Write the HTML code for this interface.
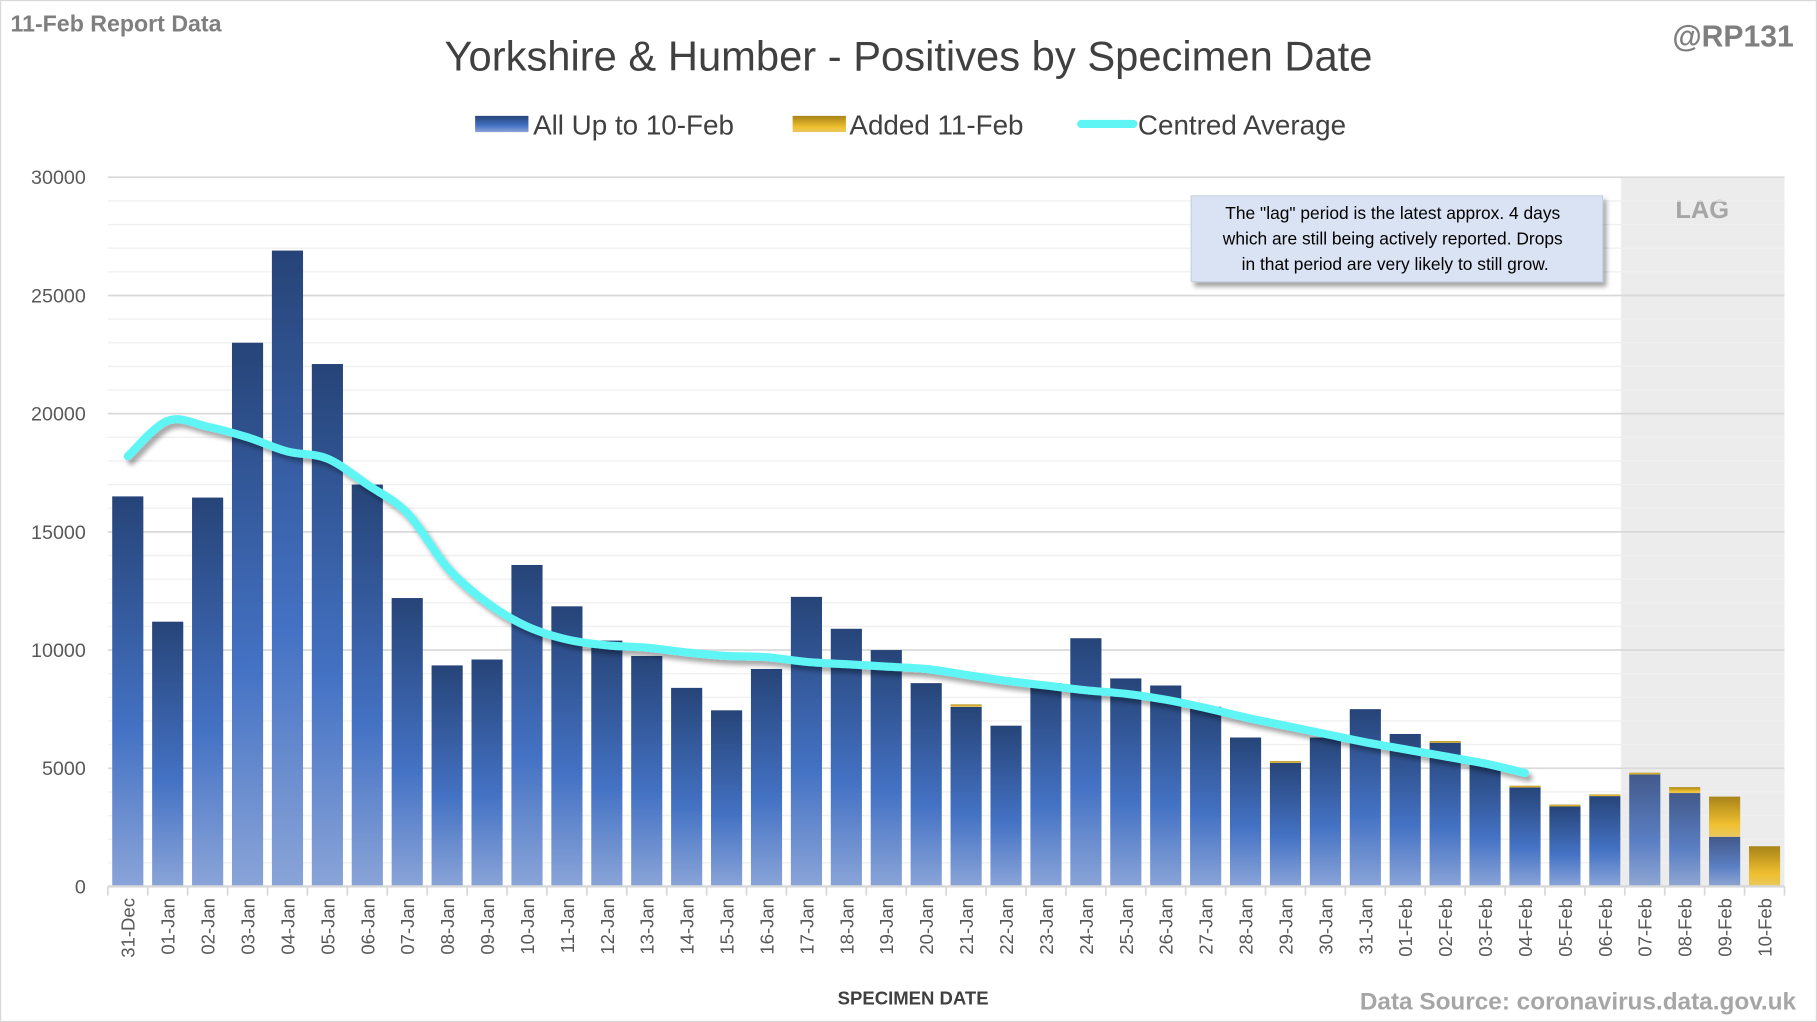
<!DOCTYPE html>
<html><head><meta charset="utf-8"><style>
html,body{margin:0;padding:0;background:#fff;}
svg{display:block;font-family:"Liberation Sans",sans-serif;}
</style></head><body>
<svg id="chart" width="1817" height="1022" viewBox="0 0 1568 882" xmlns="http://www.w3.org/2000/svg">
<defs>
<linearGradient id="gBlue" x1="0" y1="0" x2="0" y2="1">
<stop offset="0" stop-color="#264478"/><stop offset="0.6" stop-color="#4472C4"/><stop offset="1" stop-color="#8aa4d8"/>
</linearGradient>
<linearGradient id="gBlueLag" x1="0" y1="0" x2="0" y2="1">
<stop offset="0" stop-color="#42598a"/><stop offset="0.6" stop-color="#5b7fc4"/><stop offset="1" stop-color="#8fa6d2"/>
</linearGradient>
<linearGradient id="gGold" x1="0" y1="0" x2="0" y2="1">
<stop offset="0" stop-color="#a88418"/><stop offset="0.7" stop-color="#f0c030"/><stop offset="1" stop-color="#e8c860"/>
</linearGradient>
<filter id="sh" x="-5%" y="-5%" width="110%" height="120%"><feDropShadow dx="3" dy="4" stdDeviation="2" flood-color="#000" flood-opacity="0.35"/></filter>
</defs>
<rect x="0" y="0" width="1568" height="882" fill="#fff" stroke="#d9d9d9" stroke-width="2"/>
<text x="9" y="27" font-size="20" font-weight="bold" fill="#7f7f7f">11-Feb Report Data</text>
<text x="1548" y="40" font-size="26" font-weight="bold" fill="#7f7f7f" text-anchor="end">@RP131</text>
<text x="784" y="61" font-size="36" fill="#404040" text-anchor="middle">Yorkshire &amp; Humber - Positives by Specimen Date</text>
<g>
<rect x="410" y="100" width="46" height="14" fill="url(#gBlue)"/>
<text x="460" y="116" font-size="24" fill="#404040">All Up to 10-Feb</text>
<rect x="684" y="100" width="46" height="14" fill="url(#gGold)"/>
<text x="733" y="116" font-size="24" fill="#404040">Added 11-Feb</text>
<line x1="933" y1="107" x2="978" y2="107" stroke="#5ff5f5" stroke-width="7" stroke-linecap="round"/>
<text x="982" y="116" font-size="24" fill="#404040">Centred Average</text>
</g>
<rect x="1399" y="153" width="141" height="612" fill="#ececec"/>
<text x="1469" y="188" font-size="22" font-weight="bold" fill="#a6a6a6" text-anchor="middle">LAG</text>
<g id="grid"></g>
<g id="bars"></g>
<path id="avg" fill="none" stroke="#5ff5f5" stroke-width="7" stroke-linecap="round" stroke-linejoin="round" filter="url(#sh)"/>
<g id="axis"></g>
<g filter="url(#sh)">
<rect x="1028" y="169" width="355" height="74" fill="#dae3f3" stroke="#c8d2e2"/>
</g>
<text font-size="15" fill="#000" text-anchor="middle">
<tspan x="1204" y="189">The "lag" period is the latest approx. 4 days</tspan>
<tspan x="1204" y="211">which are still being actively reported.  Drops</tspan>
<tspan x="1204" y="233">in that period are very likely to still grow.</tspan>
</text>
<text x="788" y="867" font-size="16" font-weight="bold" fill="#404040" text-anchor="middle">SPECIMEN DATE</text>
<text x="1550" y="871" font-size="21" font-weight="bold" fill="#a6a6a6" text-anchor="end">Data Source: coronavirus.data.gov.uk</text>
</svg>
<script>
const categories = ["31-Dec","01-Jan","02-Jan","03-Jan","04-Jan","05-Jan","06-Jan","07-Jan","08-Jan","09-Jan","10-Jan","11-Jan","12-Jan","13-Jan","14-Jan","15-Jan","16-Jan","17-Jan","18-Jan","19-Jan","20-Jan","21-Jan","22-Jan","23-Jan","24-Jan","25-Jan","26-Jan","27-Jan","28-Jan","29-Jan","30-Jan","31-Jan","01-Feb","02-Feb","03-Feb","04-Feb","05-Feb","06-Feb","07-Feb","08-Feb","09-Feb","10-Feb"];
const upTo10Feb = [16500,11200,16450,23000,26900,22100,17000,12200,9350,9600,13600,11850,10400,9750,8400,7450,9200,12250,10900,10000,8600,7600,6800,8600,10500,8800,8500,7600,6300,5250,6300,7500,6450,6100,5200,4200,3400,3850,4780,3950,2100,0];
const added11Feb = [0,0,0,0,0,0,0,0,0,0,0,0,0,0,0,0,0,0,0,0,0,100,0,0,0,0,0,0,0,50,0,0,0,50,0,60,60,40,30,250,1700,1700];
const centredAvg = [18200,19700,19450,19000,18400,18100,17000,15800,13500,12000,11000,10450,10200,10100,9900,9750,9700,9500,9400,9300,9200,8950,8700,8500,8300,8150,7900,7550,7150,6800,6450,6100,5800,5500,5200,4800];
const yTicks = [0,5000,10000,15000,20000,25000,30000];
const NS="http://www.w3.org/2000/svg";
const X0=93,X1=1540,Y0=765,Y1=153,YMAX=30000;
const cw=(X1-X0)/categories.length;
const xC=i=>X0+cw*(i+0.5);
const yS=v=>Y0-(v/YMAX)*(Y0-Y1);
function mk(tag,attrs,parent){const e=document.createElementNS(NS,tag);for(const k in attrs)e.setAttribute(k,attrs[k]);parent.appendChild(e);return e;}
const grid=document.getElementById('grid'),bars=document.getElementById('bars'),axis=document.getElementById('axis');
for(let v=1000;v<=YMAX;v+=1000){
  const major=v%5000===0;
  const l=mk('line',{x1:X0,x2:X1,y1:yS(v),y2:yS(v),stroke:major?'#d9d9d9':'#f0f0f0','stroke-width':major?1.5:1.2},grid);
  
  
}
yTicks.forEach(v=>{
  const t=mk('text',{x:74,y:yS(v)+6,'font-size':17,fill:'#595959','text-anchor':'end'},axis);
  t.textContent=v;
  
  
});
const bw=cw*0.78;
categories.forEach((c,i)=>{
  const lag=i>=38;
  const b=upTo10Feb[i],a=added11Feb[i];
  if(b>0){
    const r=mk('rect',{x:xC(i)-bw/2,y:yS(b),width:bw,height:Y0-yS(b),fill:lag?'url(#gBlueLag)':'url(#gBlue)'},bars);
    
    
  }
  if(a>0){
    const r=mk('rect',{x:xC(i)-bw/2,y:yS(b+a),width:bw,height:Math.max(yS(b)-yS(b+a),1.5),fill:'url(#gGold)'},bars);
    
    
  }
  const tk=mk('line',{x1:X0+cw*i,x2:X0+cw*i,y1:Y0,y2:Y0+8,stroke:'#d9d9d9','stroke-width':1.5},axis);
  
  
  const t=mk('text',{x:0,y:0,'font-size':16,fill:'#595959','text-anchor':'end',transform:`translate(${xC(i)+6},775) rotate(-90)`},axis);
  t.textContent=c;
  
  
});
const ax=mk('line',{x1:X0,x2:X1,y1:Y0,y2:Y0,stroke:'#d9d9d9','stroke-width':2},axis);


const endTick=mk('line',{x1:X1,x2:X1,y1:Y0,y2:Y0+8,stroke:'#d9d9d9','stroke-width':1.5},axis);


const pts=centredAvg.map((v,i)=>[xC(i),yS(v)]);
let d=`M${pts[0][0]},${pts[0][1]}`;
for(let i=0;i<pts.length-1;i++){
  const p0=pts[i-1]||pts[i],p1=pts[i],p2=pts[i+1],p3=pts[i+2]||p2;
  const c1=[p1[0]+(p2[0]-p0[0])/6,p1[1]+(p2[1]-p0[1])/6];
  const c2=[p2[0]-(p3[0]-p1[0])/6,p2[1]-(p3[1]-p1[1])/6];
  d+=` C${c1[0]},${c1[1]} ${c2[0]},${c2[1]} ${p2[0]},${p2[1]}`;
}
document.getElementById('avg').setAttribute('d',d);
</script>
</body></html>
